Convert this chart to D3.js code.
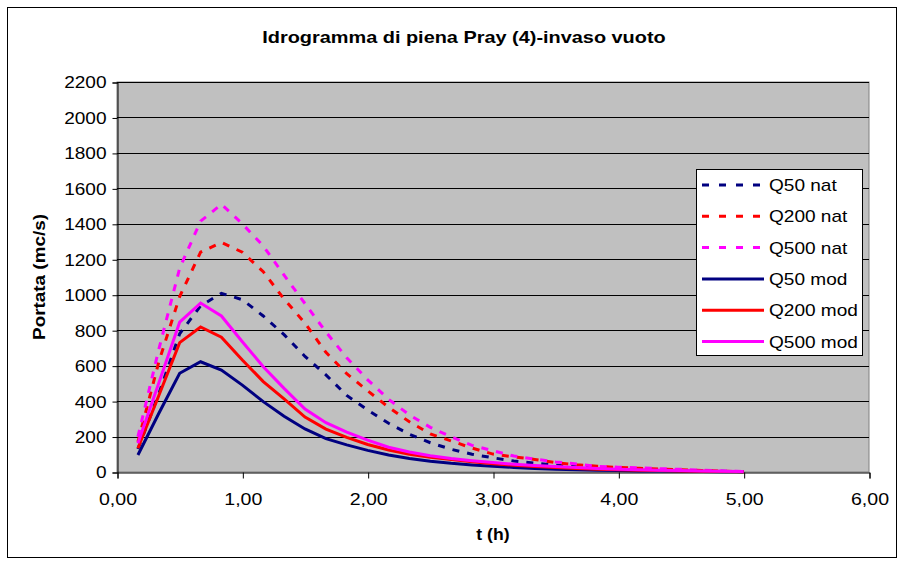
<!DOCTYPE html>
<html><head><meta charset="utf-8">
<script src="https://cdn.jsdelivr.net/npm/d3@7"></script>
<style>
html,body{margin:0;padding:0;background:#fff;}
svg text{font-family:Arial,"Liberation Sans",sans-serif;}
</style></head>
<body><svg id="c" width="904" height="565"></svg>
<script>
const times = [0.167,0.333,0.5,0.667,0.833,1.0,1.167,1.333,1.5,1.667,1.833,2.0,2.167,2.333,2.5,2.667,2.833,3.0,3.167,3.333,3.5,3.667,3.833,4.0,4.167,4.333,4.5,4.667,4.833,5.0];
const q50nat  = [130,440,780,937,1008,972,880,775,652,548,432,350,275,213,165,128,100,80,62,50,38,29,23,18,14,11,8,6,4,2];
const q200nat = [170,620,990,1240,1295,1240,1130,975,840,675,555,458,365,283,215,175,135,101,85,71,53,41,32,26,21,17,13,9,5,2];
const q500nat = [199,690,1150,1415,1510,1400,1275,1110,950,790,645,520,410,322,252,198,150,120,90,73,57,45,32,27,24,19,15,10,6,2];
const q50mod  = [96,330,557,622,575,490,397,315,243,188,153,122,96,76,61,49,40,32,26,20,16,13,10,8,6,5,4,3,2,1];
const q200mod = [134,430,730,818,760,632,510,412,310,242,195,155,124,100,83,70,58,47,38,31,25,20,16,13,10,8,6,4,3,2];
const q500mod = [162,500,845,953,880,735,594,472,355,278,225,180,140,113,92,76,64,53,44,37,31,25,20,16,13,10,8,6,4,3];
const seriesNames = ["Q50 nat","Q200 nat","Q500 nat","Q50 mod","Q200 mod","Q500 mod"];
const xTicks = [0,1,2,3,4,5,6];
const yTicks = [0,200,400,600,800,1000,1200,1400,1600,1800,2000,2200];
const title = "Idrogramma di piena Pray (4)-invaso vuoto";
const xTitle = "t (h)";
const yTitle = "Portata (mc/s)";

const seriesData = [q50nat,q200nat,q500nat,q50mod,q200mod,q500mod];
const colors = ["#000080","#FF0000","#FF00FF","#000080","#FF0000","#FF00FF"];
const dashed = [true,true,true,false,false,false];

function stretch(sel, f){
  sel.each(function(){
    const w = this.getComputedTextLength();
    d3.select(this).attr("textLength", w*f).attr("lengthAdjust","spacingAndGlyphs");
  });
}

const svg = d3.select("#c");
const L=117, R=869, T=82, B=472;
const x = d3.scaleLinear().domain([0,6]).range([L,R]);
const y = d3.scaleLinear().domain([0,2200]).range([B,T]);

svg.append("rect").attr("x",7.5).attr("y",7.5).attr("width",889).attr("height",550)
  .attr("fill","#fff").attr("stroke","#000").attr("stroke-width",1);

svg.append("rect").attr("x",L).attr("y",T).attr("width",R-L).attr("height",B-T)
  .attr("fill","#C0C0C0").attr("stroke","#808080").attr("stroke-width",1);

// gridlines
svg.append("g").selectAll("line").data(yTicks.filter(d=>d>0)).join("line")
  .attr("x1",L).attr("x2",R).attr("y1",d=>Math.round(y(d))+0.5).attr("y2",d=>Math.round(y(d))+0.5)
  .attr("stroke","#000").attr("stroke-width",1);

// axes
const yAxis = d3.axisLeft(y).tickValues(yTicks).tickSize(5).tickPadding(6).tickFormat(d3.format("d"));
const gy = svg.append("g").attr("transform",`translate(${L+0.5},0.5)`).call(yAxis);
gy.select(".domain").attr("stroke","#000");
gy.selectAll(".tick line").attr("stroke","#000");
gy.selectAll("text").attr("font-size","17px").attr("fill","#000").attr("font-family","Arial, 'Liberation Sans', sans-serif");
stretch(gy.selectAll("text"), 1.12);

const xAxis = d3.axisBottom(x).tickValues(xTicks).tickSize(6).tickPadding(14)
  .tickFormat(d=>d3.format(".2f")(d).replace(".",","));
const gx = svg.append("g").attr("transform",`translate(0.5,${B+0.5})`).call(xAxis);
gx.select(".domain").attr("stroke","#000");
gx.selectAll(".tick line").attr("stroke","#000");
gx.selectAll("text").attr("font-size","17px").attr("fill","#000").attr("font-family","Arial, 'Liberation Sans', sans-serif");
stretch(gx.selectAll("text"), 1.15);

// lines
const line = d3.line().x((d,i)=>x(times[i])).y(d=>y(d));
const gl = svg.append("g");
seriesData.forEach((s,k)=>{
  gl.append("path").datum(s).attr("d",line).attr("fill","none")
    .attr("stroke",colors[k]).attr("stroke-width",3)
    .attr("stroke-dasharray",dashed[k]?"7,8":null);
});

// titles
const tt = svg.append("text").attr("x",464).attr("y",43).attr("text-anchor","middle")
  .attr("font-size","17px").attr("font-weight","bold").text(title);
stretch(tt, 1.17);
const xt = svg.append("text").attr("x",(L+R)/2).attr("y",540).attr("text-anchor","middle")
  .attr("font-size","16px").attr("font-weight","bold").text(xTitle);
stretch(xt, 1.1);
const yt = svg.append("text").attr("transform",`translate(45,${(T+B)/2}) rotate(-90)`).attr("text-anchor","middle")
  .attr("font-size","16px").attr("font-weight","bold").text(yTitle);
stretch(yt, 1.18);

// legend
const lg = svg.append("g");
lg.append("rect").attr("x",696.5).attr("y",169.5).attr("width",166).attr("height",186)
  .attr("fill","#fff").attr("stroke","#000");
seriesNames.forEach((n,k)=>{
  const yy = 185 + k*31.3;
  lg.append("line").attr("x1",702).attr("x2",764).attr("y1",yy).attr("y2",yy)
    .attr("stroke",colors[k]).attr("stroke-width",3)
    .attr("stroke-dasharray",dashed[k]?"7,10":null);
  const t = lg.append("text").attr("x",769).attr("y",yy+6).attr("font-size","17px").text(n);
  stretch(t, 1.12);
});
</script></body></html>
